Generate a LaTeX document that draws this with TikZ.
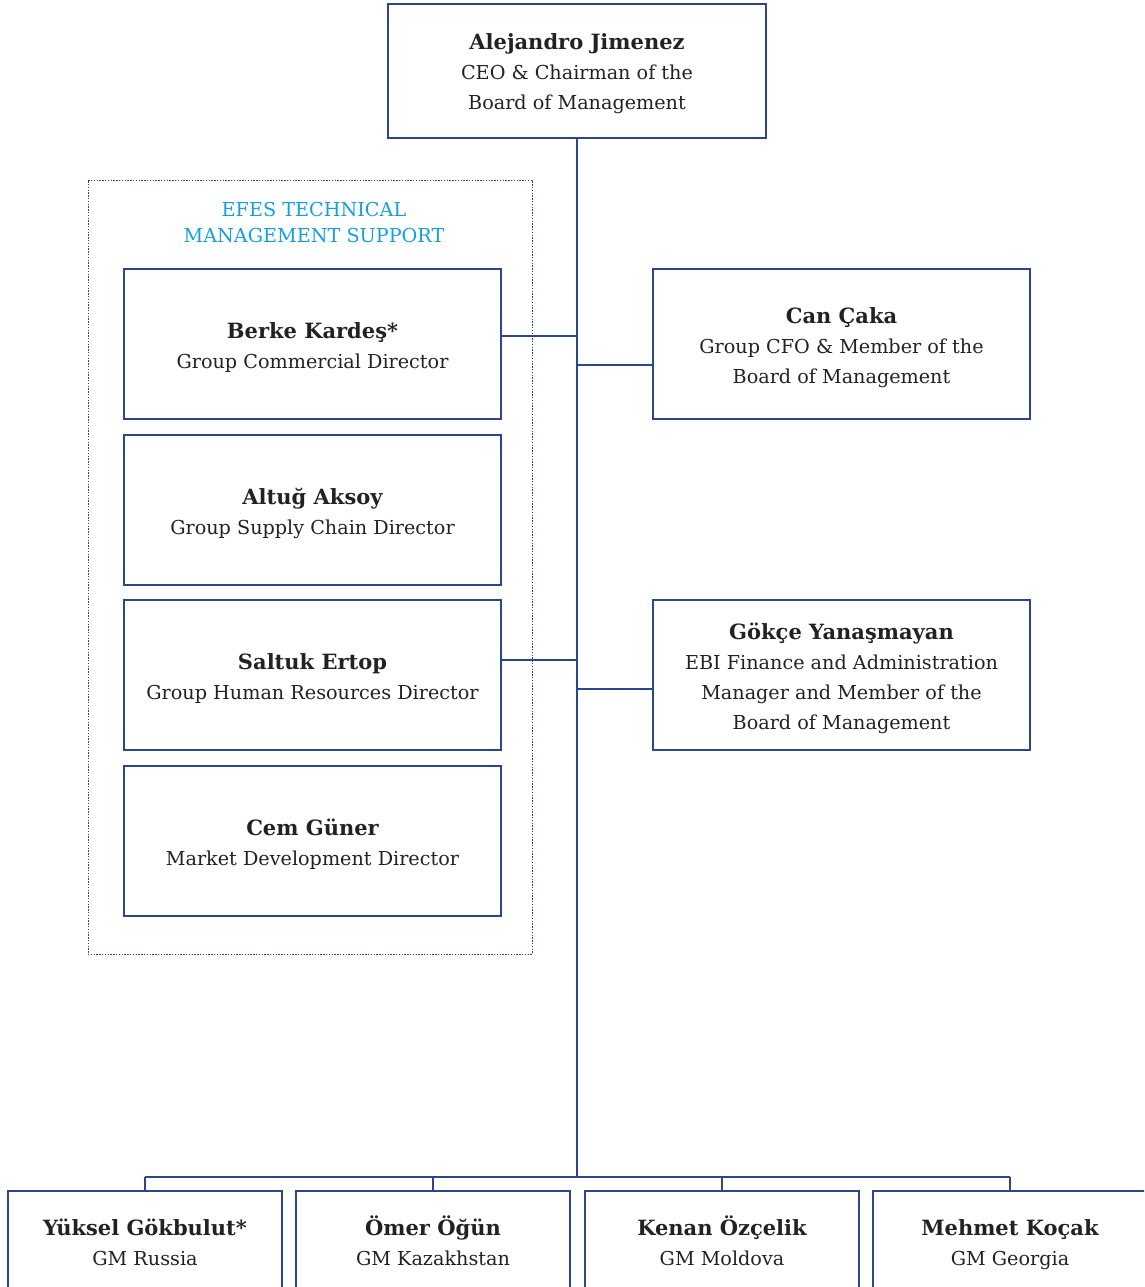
\documentclass[tikz,border=0pt]{standalone}
\usepackage{fontspec}
\setmainfont{DejaVu Serif}
\usetikzlibrary{calc}
\definecolor{navy}{RGB}{44,70,140}
\definecolor{efescyan}{RGB}{20,160,222}
\definecolor{txt}{RGB}{34,34,34}
\newcommand{\nm}[1]{\rule{0pt}{24pt}{\fontsize{21}{30}\selectfont\bfseries #1}}
\tikzset{
  box/.style={draw=navy, line width=1.4pt, rectangle, align=center, text=txt,
    font=\fontsize{19.2}{30}\selectfont, inner sep=0pt,
    execute at end node={\rule[-6pt]{0pt}{6pt}}},
  lbox/.style={box, minimum width=377pt, minimum height=150pt},
  bbox/.style={box, minimum width=274pt, minimum height=100pt},
  conn/.style={draw=navy, line width=1.5pt},
}
\begin{document}
\begin{tikzpicture}[x=1pt,y=-1pt]
\clip (0,0) rectangle (1144,1287);
\fill[white] (0,0) rectangle (1144,1287);
% CEO
\node[box, minimum width=378pt, minimum height=134pt] (ceo) at (577,71)
  {\nm{Alejandro Jimenez}\\CEO \& Chairman of the\\Board of Management};
% dotted group
\node[draw=navy, line width=1pt, dash pattern=on 1.4pt off 1.4pt, minimum width=444pt, minimum height=774pt, inner sep=0pt] (grp) at (310,567) {};
\node[text=efescyan, align=center, font=\fontsize{19.2}{26}\selectfont] (grptitle) at (314,223) {EFES TECHNICAL\\MANAGEMENT SUPPORT};
% left boxes
\node[lbox] (berke) at (312.5,344) {\nm{Berke Kardeş*}\\Group Commercial Director};
\node[lbox] (altug) at (312.5,510) {\nm{Altuğ Aksoy}\\Group Supply Chain Director};
\node[lbox] (saltuk) at (312.5,675) {\nm{Saltuk Ertop}\\Group Human Resources Director};
\node[lbox] (cem) at (312.5,841) {\nm{Cem Güner}\\Market Development Director};
% right boxes
\node[lbox] (can) at (841.5,344) {\nm{Can Çaka}\\Group CFO \& Member of the\\Board of Management};
\node[lbox] (gokce) at (841.5,675) {\nm{Gökçe Yanaşmayan}\\EBI Finance and Administration\\Manager and Member of the\\Board of Management};
% bottom boxes
\node[bbox] (yuksel) at (145,1241) {\nm{Yüksel Gökbulut*}\\GM Russia};
\node[bbox] (omer) at (433,1241) {\nm{Ömer Öğün}\\GM Kazakhstan};
\node[bbox] (kenan) at (722,1241) {\nm{Kenan Özçelik}\\GM Moldova};
\node[bbox] (mehmet) at (1010,1241) {\nm{Mehmet Koçak}\\GM Georgia};
% connectors
\coordinate (tl1) at (577,336);
\coordinate (tr1) at (577,365);
\coordinate (tl2) at (577,660);
\coordinate (tr2) at (577,689);
\coordinate (tb) at (577,1177);
\draw[conn] (ceo.south) -- (tb);
\draw[conn] (tl1 -| berke.east) -- (tl1);
\draw[conn] (tr1) -- (tr1 -| can.west);
\draw[conn] (tl2 -| saltuk.east) -- (tl2);
\draw[conn] (tr2) -- (tr2 -| gokce.west);
\draw[conn] (tb -| yuksel.north) -- (tb -| mehmet.north);
\draw[conn] (tb -| yuksel.north) -- (yuksel.north);
\draw[conn] (tb -| omer.north) -- (omer.north);
\draw[conn] (tb -| kenan.north) -- (kenan.north);
\draw[conn] (tb -| mehmet.north) -- (mehmet.north);
\end{tikzpicture}
\end{document}
